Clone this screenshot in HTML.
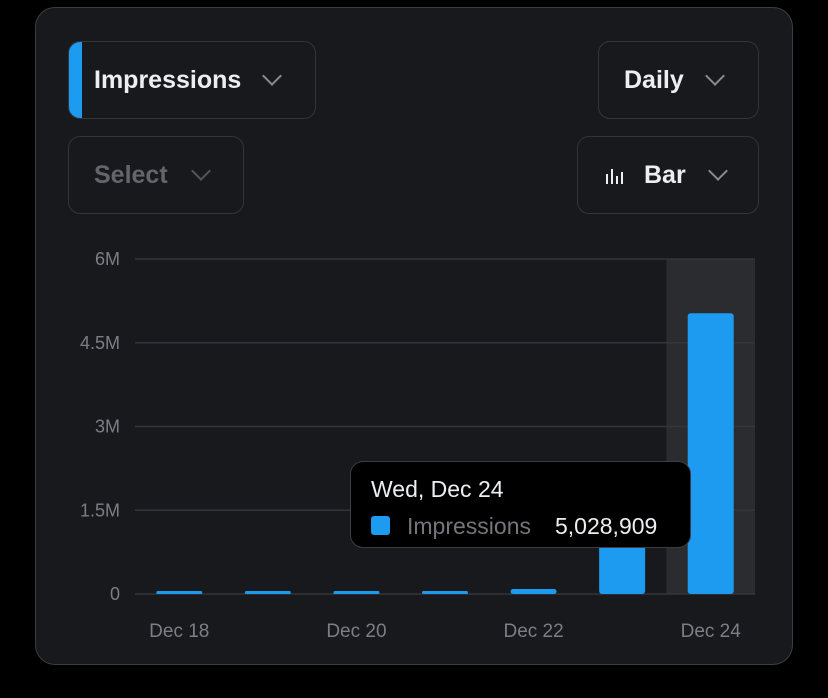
<!DOCTYPE html>
<html><head><meta charset="utf-8"><style>
body{margin:0;background:#000;width:828px;height:698px;overflow:hidden;font-family:"Liberation Sans",sans-serif}
.card{position:absolute;left:35px;top:7px;width:756px;height:656px;border:1px solid #3c3d42;border-radius:20px;background:#18191d}
.dd{position:absolute;box-sizing:border-box;border:1.5px solid #34353a;border-radius:12px;color:#eceef0;font-weight:bold;font-size:25px;display:flex;align-items:center;overflow:hidden}
.chev{display:inline-block;width:12px;height:12px;border-right:2px solid #8a8b90;border-bottom:2px solid #8a8b90;transform:rotate(45deg);margin-top:-8px}
</style></head><body>
<div class="card"></div>
<div class="dd" style="left:68px;top:41px;width:248px;height:78px;padding-left:25px">
<div style="position:absolute;left:0;top:0;width:13px;height:100%;background:#1d9bf0"></div>
<span>Impressions</span><span class="chev" style="margin-left:24px"></span></div>
<div class="dd" style="left:68px;top:136px;width:176px;height:78px;padding-left:25px;color:#64656a">
<span>Select</span><span class="chev" style="margin-left:26px;border-color:#55565b"></span></div>
<div class="dd" style="left:598px;top:41px;width:161px;height:78px;padding-left:25px">
<span>Daily</span><span class="chev" style="margin-left:24px"></span></div>
<div class="dd" style="left:577px;top:136px;width:182px;height:78px;padding-left:27px">
<svg width="20" height="20"><g stroke="#eceef0" stroke-width="2"><line x1="2" y1="19" x2="2" y2="9"/><line x1="7" y1="19" x2="7" y2="4"/><line x1="12" y1="19" x2="12" y2="11"/><line x1="17" y1="19" x2="17" y2="7"/></g></svg>
<span style="margin-left:19px">Bar</span><span class="chev" style="margin-left:25px"></span></div>
<svg id="c" width="828" height="698" style="position:absolute;left:0;top:0"></svg>
<div style="position:absolute;left:350px;top:461px;width:341px;height:87px;box-sizing:border-box;background:#000;border:1.5px solid #3c3d42;border-radius:13px;color:#eceef0;font-size:23px">
<div style="position:absolute;left:20px;top:14px">Wed, Dec 24</div>
<div style="position:absolute;left:20px;top:54px;width:19px;height:19px;background:#1d9bf0;border-radius:3px"></div>
<div style="position:absolute;left:56px;top:51px;color:#75767b">Impressions</div>
<div style="position:absolute;left:204px;top:51px">5,028,909</div>
</div>
<script>
const categories=["Dec 18","Dec 19","Dec 20","Dec 21","Dec 22","Dec 23","Dec 24"];
const impressions=[30000,30000,30000,45000,90000,1450000,5028909];
const tickValues=[0,1500000,3000000,4500000,6000000];
const tickLabels=["0","1.5M","3M","4.5M","6M"];
const xLabelIdx=[0,2,4,6];
const highlighted=6;
const svg=document.getElementById('c'),NS="http://www.w3.org/2000/svg";
const x0=135,x1=755,y0=594,y1=259,maxV=6000000;
const band=(x1-x0)/categories.length;
const y=v=>y0-(v/maxV)*(y0-y1);
const xc=i=>x0+band*(i+0.5);
function mk(t,a){const e=document.createElementNS(NS,t);for(const k in a)e.setAttribute(k,a[k]);svg.appendChild(e);return e;}
let hb=mk('rect',{x:x0+band*highlighted,y:y1,width:band,height:y0-y1,fill:'#2b2c30'});


tickValues.forEach((v,i)=>{
 const l=mk('line',{x1:x0,x2:x1,y1:y(v),y2:y(v),stroke:'#34353a','stroke-width':1.5});
 
 
 const t=mk('text',{x:120,y:y(v)+6,'text-anchor':'end',fill:'#7d7e83','font-size':18,'font-family':'Liberation Sans, sans-serif'});
 t.textContent=tickLabels[i];
 
 
});
impressions.forEach((v,i)=>{
 const h=Math.max(y0-y(v),3);
 const r=mk('rect',{x:xc(i)-23,y:y0-h,width:46,height:h,rx:Math.min(3,h/2),fill:'#1d9bf0'});
 
 
});
xLabelIdx.forEach(i=>{
 const t=mk('text',{x:xc(i),y:637,'text-anchor':'middle',fill:'#7d7e83','font-size':19,'font-family':'Liberation Sans, sans-serif'});
 t.textContent=categories[i];
 
 
});
</script>
</body></html>
